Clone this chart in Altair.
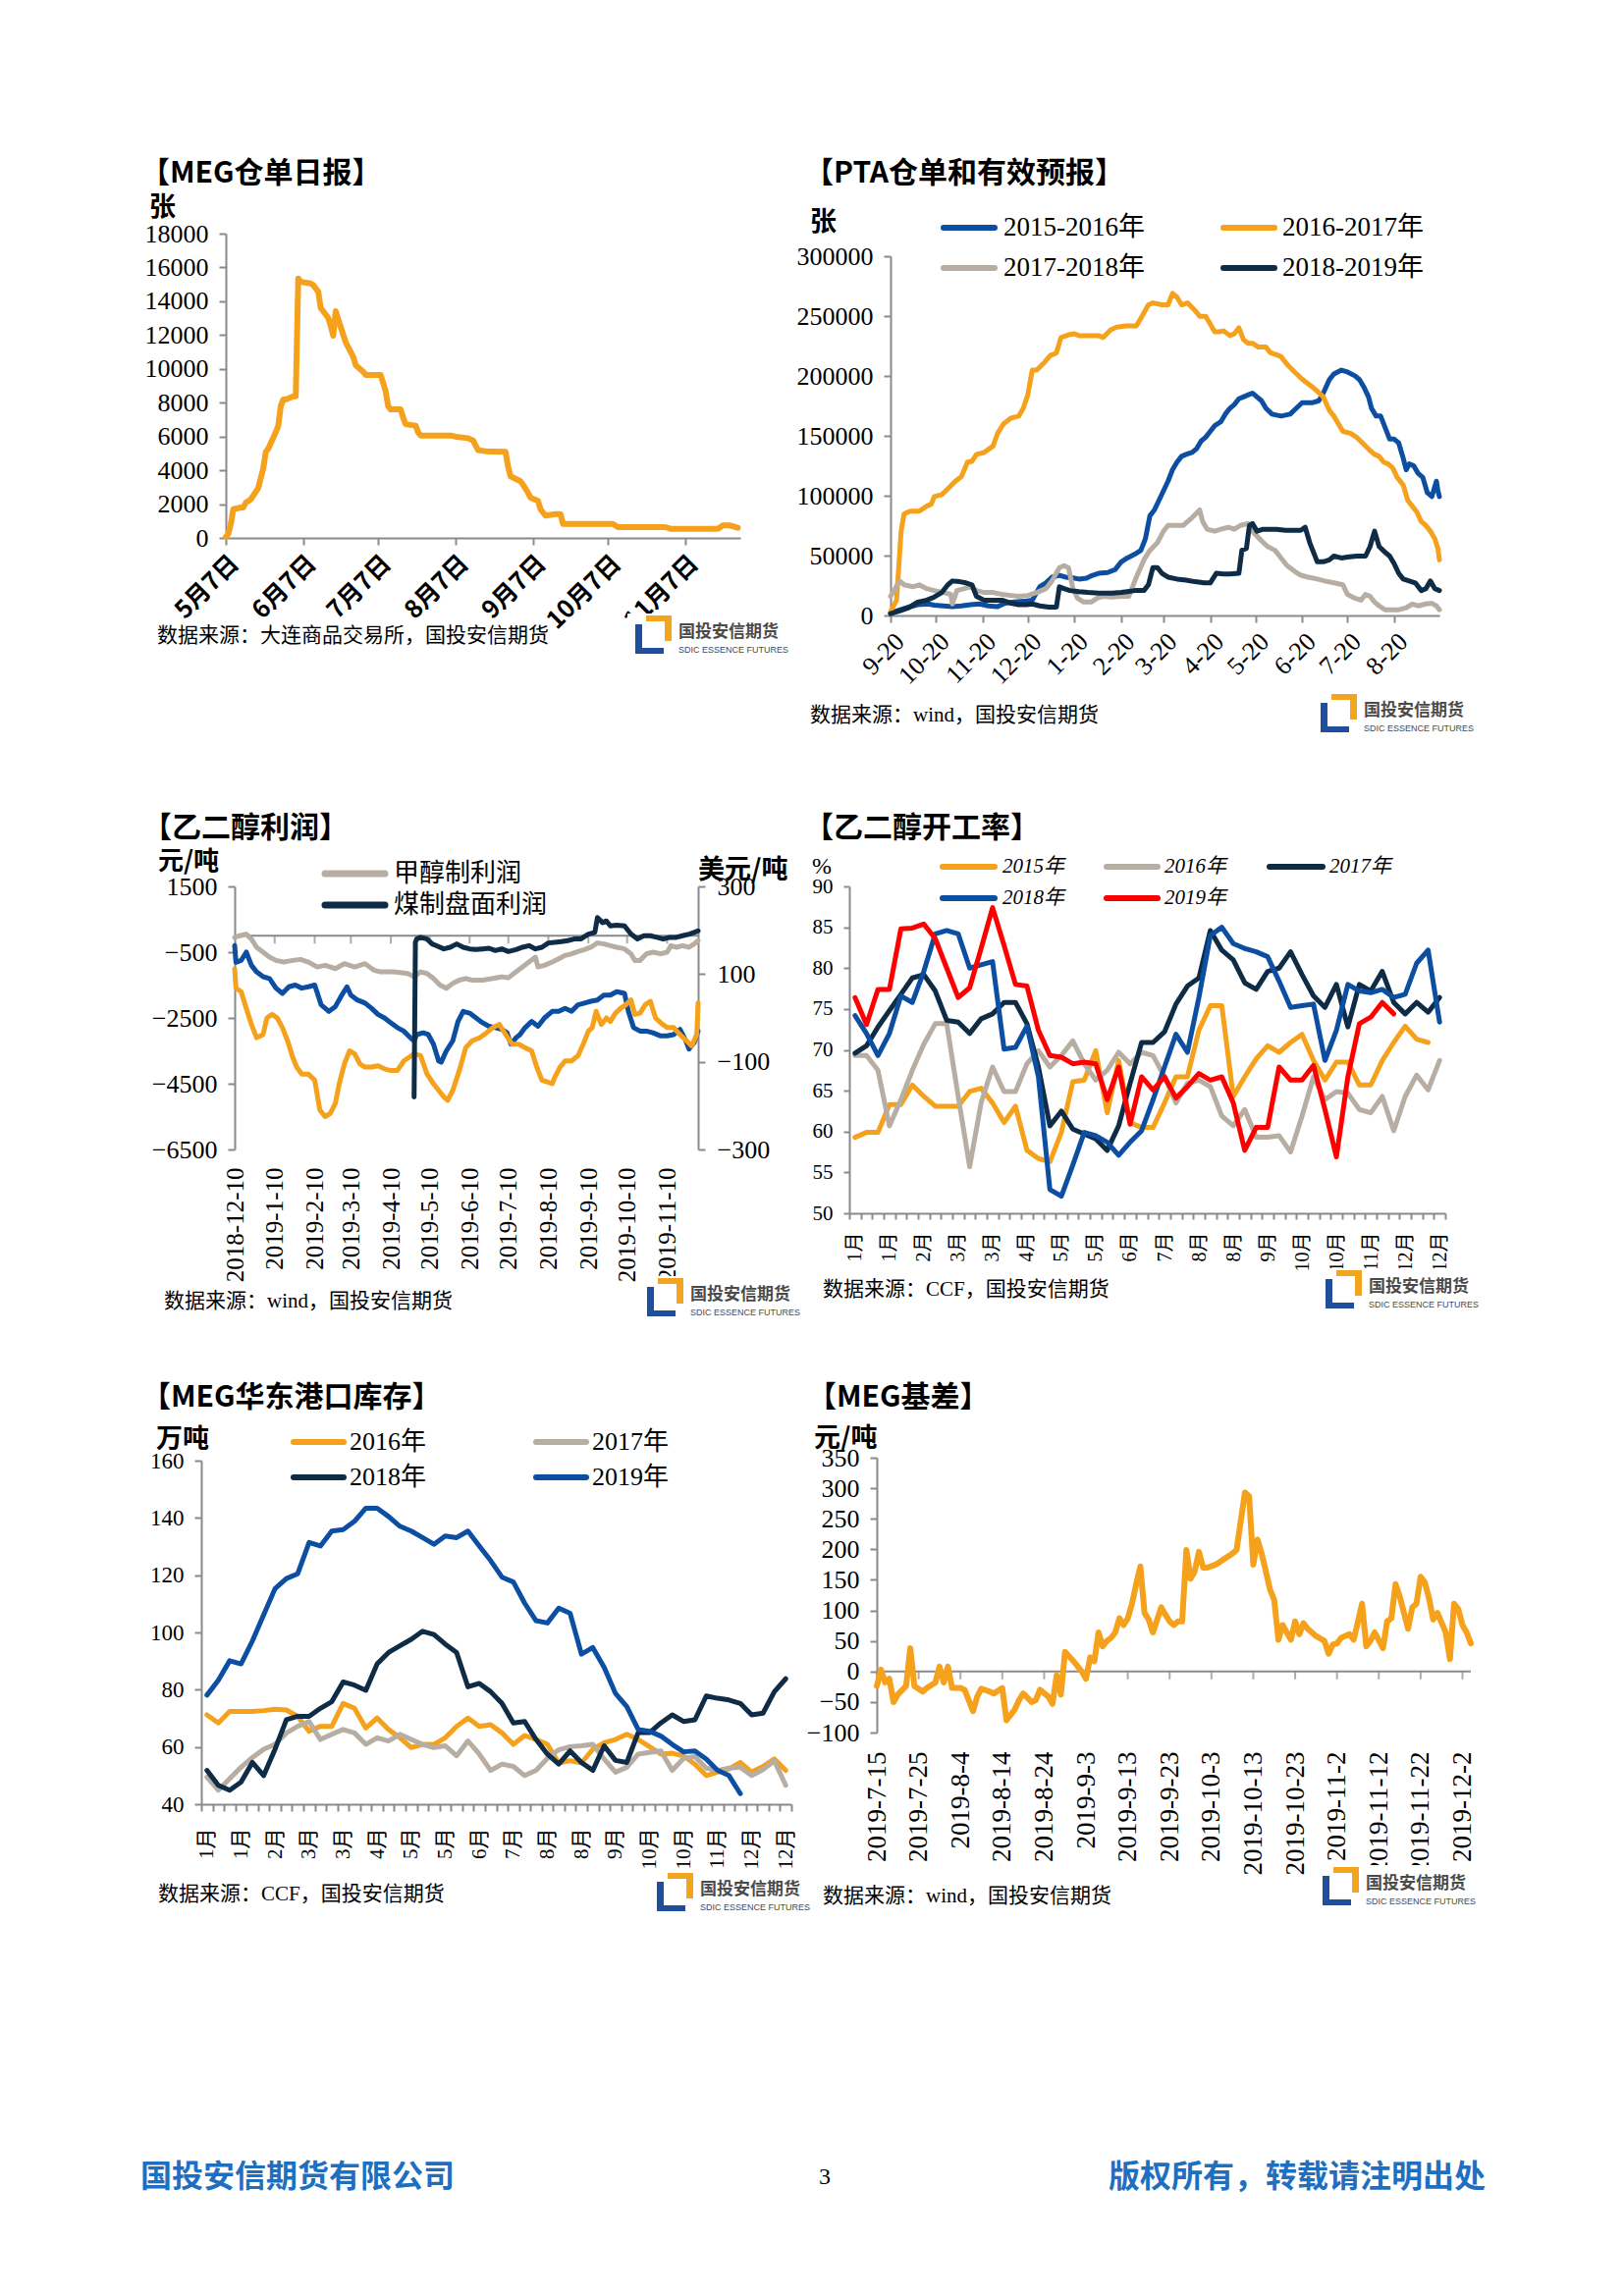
import json
import altair as alt
import pandas as pd

# ======================= DATA =======================
# 【MEG仓单日报】 unit: 张
meg_receipt_dates = ["2019-05-07","2019-05-08","2019-05-09","2019-05-10","2019-05-13","2019-05-14","2019-05-15","2019-05-17","2019-05-20","2019-05-21",
    "2019-05-22","2019-05-23","2019-05-24","2019-05-27","2019-05-28","2019-05-29","2019-05-30","2019-05-31","2019-06-03","2019-06-04",
    "2019-06-05","2019-06-06","2019-06-10","2019-06-11","2019-06-12","2019-06-13","2019-06-14","2019-06-17","2019-06-18","2019-06-19",
    "2019-06-20","2019-06-21","2019-06-24","2019-06-25","2019-06-26","2019-06-27","2019-06-28","2019-07-01","2019-07-02","2019-07-08",
    "2019-07-10","2019-07-11","2019-07-12","2019-07-16","2019-07-17","2019-07-18","2019-07-22","2019-07-23","2019-07-24","2019-08-05",
    "2019-08-08","2019-08-12","2019-08-14","2019-08-16","2019-08-19","2019-08-27","2019-08-28","2019-08-29","2019-09-02","2019-09-03",
    "2019-09-05","2019-09-06","2019-09-09","2019-09-10","2019-09-12","2019-09-16","2019-09-18","2019-09-19","2019-10-09","2019-10-11",
    "2019-10-30","2019-11-01","2019-11-20","2019-11-22","2019-11-25","2019-11-27","2019-11-28"]
meg_receipt_vals = [60,250,830,1700,1800,1800,2090,2280,2960,3540,
    4120,5090,5280,6250,6640,7800,8190,8190,8380,8380,
    15350,15150,15050,14960,14760,14570,13600,13020,12540,11960,
    13410,12930,11570,11280,10990,10700,10220,9830,9640,9640,
    8670,7800,7600,7600,7120,6730,6640,6250,6060,6060,
    5960,5900,5770,5190,5130,5090,4220,3640,3350,3150,
    2670,2380,2190,1700,1320,1410,1410,830,830,640,
    640,540,540,735,735,640,600]

# 【PTA仓单和有效预报】 unit: 张 ; x = days after 9-20 of the season
pta_days_1516 = [0,4,12,18,25,29,35,41,47,53,59,65,71,76,82,88,94,99,103,107,112,116,121,125,130,134,138,144,149,153,
    157,162,166,169,172,175,178,181,184,187,190,193,196,200,203,206,209,212,215,219,222,225,228,231,234,237,240,243,246,249,
    253,259,265,269,273,280,284,287,291,294,299,303,308,311,314,317,319,322,325,327,331,334,337,340,342,344,347,350,353,356,
    359,362,363,364]
pta_vals_1516 = [1600,3800,7000,9000,9600,8600,8000,7400,8000,9000,9600,8000,7400,10200,11200,11800,12800,24000,27200,32000,
    33600,32000,31400,30400,31100,33600,35200,35900,38400,44800,48000,51200,54400,64000,83300,88100,96100,104100,112100,121700,
    128100,132900,134500,136100,139300,145700,148900,153700,158500,161700,168100,172900,176100,180900,182500,184100,185700,182500,179300,172900,
    168100,166500,168100,172900,177700,177700,179300,185700,196900,201700,204900,203300,200100,196900,190500,182500,172900,166500,166500,160100,
    147300,147300,144100,131300,121700,126500,124900,118500,115300,102500,99300,112100,104100,99300]
pta_days_1617 = [0,4,7,9,13,19,24,27,29,34,38,43,47,51,54,57,62,68,71,75,80,85,88,91,94,97,102,106,110,113,
    118,122,125,132,138,141,146,150,156,163,166,171,174,180,184,187,190,193,197,202,205,209,212,215,218,221,225,228,231,234,
    237,240,244,249,252,256,259,263,268,272,275,280,283,287,291,294,297,300,305,309,313,318,321,324,327,330,333,336,340,343,
    346,349,352,355,358,361,363,364]
pta_vals_1617 = [3200,12800,70400,84900,87100,87100,91300,92900,99300,100900,105700,112100,115900,128100,128700,134500,136100,141500,152100,160100,
    164900,166500,172900,184100,204900,204900,211300,217100,219300,232100,234400,235300,233700,233700,233700,232100,238500,240800,241800,241800,
    248200,259400,261000,259400,259400,269000,265800,259400,261000,254600,249800,249800,243400,236900,236900,237600,233700,235300,240200,230500,
    227300,227300,224100,224100,219300,217700,216100,209700,203300,198500,195300,190500,187300,182500,171300,166500,160100,153700,152100,148900,
    144100,137700,134500,132900,128100,126500,123300,115300,108900,96100,91300,86500,78400,75200,70400,64000,56000,46400]
pta_days_1718 = [0,3,6,9,15,19,24,29,35,40,41,44,49,53,57,62,68,74,80,85,91,97,103,107,112,115,118,121,124,128,
    133,137,141,147,153,158,160,163,168,172,177,181,184,188,194,197,200,205,207,210,215,219,224,228,232,237,241,246,250,255,
    259,263,268,272,277,283,288,294,300,303,308,312,315,318,321,324,328,333,337,342,346,350,355,359,362,364]
pta_vals_1718 = [16000,22400,28800,25600,24000,25600,22400,20800,19200,17600,9600,20800,22400,24000,20800,19200,19200,17600,16700,16000,
    16700,19200,22400,28800,40000,41600,40000,22400,14400,11200,11200,14400,16000,15400,16000,16000,22400,32000,46400,54400,
    60800,70400,75200,75200,75200,78400,81700,88100,78400,72000,70400,72000,73600,72000,75200,76800,68800,62400,57600,54400,
    48000,41600,36800,33600,32000,30400,28800,27200,25600,17600,14400,12800,17600,16000,11200,8000,4800,4800,4800,6400,
    9600,8000,9600,10200,8000,4800]
pta_days_1819 = [0,6,12,18,24,29,34,38,41,46,50,54,57,62,68,74,80,85,90,94,99,105,110,112,115,119,125,131,138,147,
    153,157,162,168,171,174,177,180,184,190,196,202,208,212,216,221,225,231,233,236,238,240,243,247,252,256,262,268,272,275,
    278,283,287,291,294,299,303,309,315,318,321,324,328,331,334,337,340,344,348,352,355,358,361,364]
pta_vals_1819 = [1600,3800,6400,11200,12800,15400,19200,25600,28800,28200,27200,25600,16000,12800,12800,12800,10200,9000,9000,9600,
    8000,7000,7000,24000,22400,20800,19900,19200,18600,18600,19200,19900,20800,20800,25600,40000,40000,35200,32000,30400,
    29500,28200,27200,27200,35200,34600,34600,35200,54400,56000,75200,76800,70400,72000,72000,72000,71100,71100,71100,73600,
    60800,44800,44800,46400,49600,48000,48700,49600,49600,57600,70400,57600,52800,49600,43200,35200,30400,28800,27200,20800,
    22400,28800,22400,20800]

# 【乙二醇利润】 x = days after 2018-12-10
methanol_days = [0,4,9,13,17,22,27,32,38,45,51,57,64,70,78,85,93,101,108,113,123,134,139,144,149,154,159,164,169,174,
    179,184,192,200,207,212,218,223,228,233,235,240,246,251,256,261,266,271,276,281,286,291,296,302,307,310,314,319,324,330,
    335,338,342,347,352,356,359]
methanol_vals = [-50,0,50,-100,-350,-500,-650,-750,-800,-750,-720,-800,-950,-900,-1000,-850,-950,-850,-1050,-1100,
    -1100,-1150,-1250,-1100,-1150,-1300,-1500,-1600,-1450,-1350,-1300,-1350,-1350,-1300,-1250,-1280,-1100,-950,-800,-650,
    -950,-900,-800,-700,-600,-550,-480,-420,-350,-220,-250,-300,-350,-400,-550,-750,-750,-550,-500,-550,
    -500,-300,-350,-300,-350,-250,-150]
coal_days = [139,140,141,144,149,153,156,162,167,172,177,182,187,192,197,202,207,212,218,223,228,233,238,243,248,253,258,263,268,274,
    279,281,285,288,291,296,302,307,312,317,322,327,332,337,342,347,352,356,359]
coal_vals = [-4900,-200,-100,-50,-100,-250,-300,-400,-350,-250,-350,-400,-420,-400,-380,-450,-400,-480,-420,-350,
    -300,-400,-350,-220,-200,-180,-150,-100,-100,50,100,550,400,450,300,320,300,50,-100,0,
    0,-50,-100,-50,-50,0,50,100,150]
usd_blue_days = [0,1,5,9,13,17,22,27,32,37,42,47,52,57,62,67,73,78,83,87,90,95,101,106,111,116,121,126,131,136,
    139,141,146,150,154,158,160,164,169,173,177,182,187,192,197,202,207,211,214,218,221,225,230,235,240,246,251,256,261,266,
    271,276,281,286,291,296,302,305,309,314,319,324,330,335,340,345,349,352,356,359]
usd_blue_vals = [165,127,131,150,120,105,94,90,68,56,71,75,68,71,75,30,15,26,52,71,52,41,34,22,8,0,-11,-22,-30,-45,
    -52,-38,-34,-38,-60,-98,-101,-75,-52,-8,15,11,0,-11,-19,-22,-26,-34,-60,-45,-38,-22,-8,-19,0,15,15,22,15,30,
    34,38,41,52,52,60,56,15,-22,-30,-30,-34,-41,-41,-38,-26,-49,-71,-56,-30]
usd_orange_days = [0,1,5,9,13,17,22,25,29,33,37,41,45,48,52,57,62,66,70,74,78,81,85,89,93,97,101,106,111,116,
    121,126,131,135,139,144,149,154,158,162,165,169,174,179,184,190,195,200,205,210,215,220,225,230,234,238,242,246,248,252,
    256,261,266,270,274,277,280,284,288,291,295,299,303,307,310,314,318,322,326,330,335,340,345,350,354,358,359]
usd_orange_vals = [112,68,60,22,-15,-45,-38,0,8,0,-22,-52,-90,-112,-128,-128,-142,-210,-225,-218,-195,-150,-105,-75,-82,-105,-112,-112,-109,-116,
    -120,-120,-98,-90,-82,-86,-128,-150,-165,-180,-188,-165,-120,-68,-52,-45,-34,-22,-15,-38,-60,-60,-68,-75,-112,-142,-146,-150,-135,-112,
    -98,-98,-86,-60,-30,-22,15,-15,0,-8,11,22,30,41,8,11,30,38,0,-11,-22,-22,-38,-52,-64,-38,34]

# 【乙二醇开工率】 weekly, %
rate_2015 = [59.3,59.9,59.9,63.3,63.3,65.7,64.3,63.1,63.1,63.1,64.9,65.3,63.5,61.1,63.1,57.7,56.7,56.3,59.9,66.1,66.3,69.9,62.3,68.7,61.1,60.5,
    60.5,63.5,66.7,66.7,72.4,75.4,75.4,64.3,66.7,68.9,70.5,69.7,70.9,71.9,68.7,66.3,68.5,68.5,65.7,65.7,68.7,70.9,72.9,71.3,70.9]
rate_2016 = [69.3,69.3,67.5,60.7,63.9,67.5,70.7,73.2,73.2,64.3,55.7,63.5,67.9,64.9,64.9,68.3,69.9,67.9,69.3,71.1,68.3,66.3,67.5,69.7,68.3,69.7,
    69.3,66.7,63.5,65.9,66.3,65.5,61.9,60.7,62.7,59.3,59.3,59.5,57.5,61.9,66.7,63.9,64.9,64.7,62.7,62.3,64.3,60.1,64.3,66.9,65.1,68.7]
rate_2017 = [69.6,70.5,72.8,74.8,76.8,78.8,79.2,77.2,73.6,73.4,72.0,73.8,74.4,75.8,75.8,73.2,67.9,60.7,62.5,60.3,59.7,59.1,57.7,60.7,65.9,70.9,
    70.9,72.2,75.6,77.8,78.8,84.6,82.2,81.0,78.2,77.4,79.6,80.0,82.0,79.2,76.6,75.2,78.0,72.8,78.0,77.2,79.6,75.8,74.4,75.8,74.6,76.4]
rate_2018 = [74.2,72.0,69.3,72.0,76.6,75.8,79.6,84.2,84.6,84.2,80.0,80.4,80.8,70.1,70.3,72.9,66.7,52.9,52.1,55.9,59.9,59.5,58.7,57.1,58.7,60.1,
    63.9,67.9,71.9,69.7,76.4,84.0,85.0,83.0,82.4,82.0,81.4,78.4,75.2,75.4,75.6,68.7,72.4,78.0,77.2,77.0,77.4,76.4,76.8,80.6,82.2,73.4]
rate_2019 = [76.4,73.1,77.4,77.4,84.8,84.9,85.4,83.6,80.0,76.4,77.6,82.4,87.4,82.8,78.0,77.8,72.4,69.3,69.1,68.3,68.5,68.3,63.9,67.9,60.9,66.7,
    65.1,66.7,64.1,65.5,67.1,66.3,66.7,63.5,57.7,60.5,60.5,67.9,66.3,66.3,68.1,62.7,56.9,66.7,73.2,74.0,75.8,74.4]

# 【MEG华东港口库存】 weekly, 万吨
stock_2016 = [71.2,68.4,72.4,72.4,72.4,72.7,73.2,72.9,70.7,65.5,67.2,67.2,75.2,73.5,66.6,70.1,66.1,63.2,59.8,60.9,60.9,63.2,67.2,70.1,67.2,67.8,
    64.9,60.9,64.0,62.6,60.9,54.4,55.2,54.4,59.2,61.5,62.6,64.4,62.6,60.1,57.5,57.8,56.9,54.0,50.0,51.2,52.3,54.6,51.2,53.2,55.8,51.8]
stock_2017 = [49.5,44.9,48.9,52.9,56.3,59.2,60.9,64.9,67.2,68.9,62.6,64.4,66.1,64.9,60.9,63.2,62.1,64.4,62.6,60.9,59.8,60.4,56.9,62.1,57.5,51.8,
    54.0,53.2,50.0,51.8,56.0,59.0,60.1,60.4,60.9,55.8,51.2,52.9,57.5,58.1,58.6,51.8,56.0,56.6,52.6,51.8,52.6,52.9,50.0,52.1,55.2,46.6]
stock_2018 = [51.8,46.6,44.9,47.7,54.6,50.0,59.2,69.5,70.7,70.7,73.5,75.8,82.7,81.6,79.8,89.0,93.0,95.3,97.6,100.4,99.3,95.9,93.0,81.0,82.2,79.3,
    75.2,68.4,68.9,62.6,57.5,54.0,58.6,54.6,51.8,60.4,55.3,54.6,65.0,65.0,68.4,71.2,68.9,69.5,77.8,77.0,76.4,75.2,71.2,71.8,79.3,83.8]
stock_2019 = [78.1,83.3,90.1,89.0,97.0,106.2,115.3,118.8,120.5,131.4,130.2,135.4,135.9,138.8,143.4,143.4,140.5,137.1,135.4,133.1,130.8,133.7,133.1,135.4,130.2,125.1,
    119.3,117.6,110.2,104.1,103.3,108.5,106.7,92.4,94.7,87.8,78.7,74.1,66.1,65.5,63.8,60.9,58.3,58.6,55.8,51.8,50.0,43.7]
week_labels = ["1月","1月","2月","3月","3月","4月","5月","5月","6月","7月","8月","8月","9月","10月","10月","11月","12月","12月"]

# 【MEG基差】 元/吨 ; x = days after 2019-07-15
basis_days = [0,1,2,3,4,5,7,8,9,11,12,14,15,16,17,18,20,21,23,24,25,27,28,30,31,33,34,35,37,38,
    39,41,42,43,44,45,47,49,50,51,52,53,54,55,56,57,58,59,60,61,62,63,64,65,66,68,69,70,71,72,
    73,74,75,76,77,78,79,81,83,85,86,88,89,90,91,92,93,94,95,96,97,98,99,100,101,102,103,105,107,108,
    109,110,111,113,114,116,117,118,119,121,122,123,124,125,127,128,129,130,131,132,133,134,136,137,138,139,140,141,142]
basis_vals = [-24,3,-18,-12,-50,-38,-24,38,-24,-33,-27,-18,8,-18,8,-27,-27,-30,-65,-41,-28,-33,-36,-27,-80,-62,-47,-36,-50,-47,
    -30,-41,-53,-6,-38,32,17,0,-12,23,17,64,41,50,55,64,87,76,87,111,143,172,96,85,64,105,93,82,76,82,
    82,199,152,164,196,170,170,175,184,193,199,293,287,175,216,193,164,134,117,52,76,64,52,82,61,79,70,58,50,29,
    44,46,55,61,52,111,41,50,64,38,82,87,143,123,70,105,111,155,146,120,85,96,64,20,111,102,76,64,46]

# ======================= STYLE =======================
SERIF = "Liberation Serif, Noto Sans CJK SC"
SANS = "Noto Sans CJK SC"
ORANGE = "#F5A11C"
BLUE = "#0B4EA2"
NAVY = "#0E2C46"
TAUPE = "#B8ADA2"
RED = "#FF0000"
AXC = "#8A8A8A"
FOOT = "#1F6FC1"
LOGO_BLUE = "#1F4E9C"
LOGO_ORANGE = "#F3A51F"

ONE = pd.DataFrame({"k": [0]})

# grid cells (page is split into 2 columns x 3 rows of fixed-size views)
VW = [799, 733]
VH = [772, 600, 900]


def dt(y, m, d):
    return alt.DateTime(year=y, month=m, date=d)


def ax(**kw):
    base = dict(domainColor=AXC, domainWidth=2, tickColor=AXC, tickWidth=2, tickSize=7, grid=False,
                title=None, labelColor="black", labelFont=SERIF, labelFontSize=26, labelFlush=False,
                labelOverlap=False, labelPadding=11)
    base.update(kw)
    return alt.Axis(**base)


class Panel:
    """Plot area of w x h placed at (ox, oy) inside a view of size vw x vh."""

    def __init__(self, ox, oy, w, h, vw, vh):
        self.ox, self.oy, self.w, self.h, self.vw, self.vh = ox, oy, w, h, vw, vh

    def xr(self):
        return [self.ox, self.ox + self.w]

    def yr(self):
        return [self.oy + self.h, self.oy]

    def bottom_off(self):
        return self.oy + self.h - self.vh

    def left_off(self):
        return -self.ox

    def right_off(self):
        return self.ox + self.w - self.vw

    def txt(self, x, y, s, size=21, font=SERIF, weight="normal", color="black", align="left", style="normal"):
        return alt.Chart(ONE).mark_text(text=s, fontSize=size, font=font, fontWeight=weight, color=color,
                                        align=align, baseline="middle", fontStyle=style).encode(
            x=alt.value(self.ox + x), y=alt.value(self.oy + y))

    def swatch(self, x1, x2, y, color, w=6):
        return alt.Chart(ONE).mark_rule(color=color, strokeWidth=w, strokeCap="round").encode(
            x=alt.value(self.ox + x1), x2=alt.value(self.ox + x2), y=alt.value(self.oy + y))

    def rect(self, x1, y1, x2, y2, color):
        return alt.Chart(ONE).mark_rect(color=color).encode(
            x=alt.value(self.ox + x1), x2=alt.value(self.ox + x2),
            y=alt.value(self.oy + y1), y2=alt.value(self.oy + y2))

    def logo(self, x, y):
        return [
            self.rect(x - 8, y - 2, x + 165, y + 44, "white"),
            self.rect(x + 11, y, x + 37, y + 6, LOGO_ORANGE),
            self.rect(x + 30, y, x + 37, y + 26, LOGO_ORANGE),
            self.rect(x, y + 9, x + 7, y + 39, LOGO_BLUE),
            self.rect(x, y + 33, x + 29, y + 39, LOGO_BLUE),
            self.txt(x + 44, y + 17, "国投安信期货", size=17, font=SANS, weight="bold", color="#4A4A4A"),
            self.txt(x + 44, y + 35, "SDIC ESSENCE FUTURES", size=9,
                     font="Liberation Sans Narrow, Liberation Sans", color="#4A4A4A"),
        ]

    def zero_rule(self, y_enc):
        return alt.Chart(ONE).mark_rule(color=AXC, strokeWidth=2).encode(
            x=alt.value(self.ox), x2=alt.value(self.ox + self.w), y=y_enc)


def season_df(base, days, vals):
    return pd.DataFrame({"date": pd.Timestamp(base) + pd.to_timedelta(days, unit="D"), "v": vals})


def week_df(vals):
    return pd.DataFrame({"week": list(range(len(vals))), "v": vals})


def line(df, color, x, y, w=5):
    return alt.Chart(df).mark_line(color=color, strokeWidth=w, strokeJoin="round", strokeCap="round").encode(x=x, y=y)


# ======================= PANEL 1 =======================
A = Panel(211, 230, 524, 310, VW[0], VH[0])
df_meg = pd.DataFrame({"date": pd.to_datetime(meg_receipt_dates), "v": meg_receipt_vals})
x1 = alt.X("date:T", scale=alt.Scale(domain=[dt(2019, 5, 7), dt(2019, 11, 29)], range=A.xr(), nice=False),
           axis=ax(values=[dt(2019, m, 7) for m in range(5, 12)], format="%-m月%-d日", labelAngle=-45,
                   labelFont=SANS, labelFontWeight="bold", labelFontSize=25, labelPadding=6,
                   offset=A.bottom_off()))
y1 = alt.Y("v:Q", scale=alt.Scale(domain=[0, 18000], range=A.yr(), nice=False),
           axis=ax(values=list(range(0, 18001, 2000)), format="d", offset=A.left_off()))
p1 = alt.layer(
    line(df_meg, ORANGE, x1, y1, 6),
    A.txt(-87, -61, "【MEG仓单日报】", 30, SANS, "bold"),
    A.txt(-78, -26, "张", 27, SANS, "bold"),
    A.txt(-70, 410, "数据来源：大连商品交易所，国投安信期货", 21),
    *A.logo(417, 389),
).properties(width=VW[0], height=VH[0])

# ======================= PANEL 2 =======================
B = Panel(89, 253, 559, 366, VW[1], VH[0])
x2 = alt.X("date:T", scale=alt.Scale(domain=[dt(2018, 9, 20), dt(2019, 9, 19)], range=B.xr(), nice=False),
           axis=ax(values=[dt(2018, m, 20) for m in range(9, 13)] + [dt(2019, m, 20) for m in range(1, 9)],
                   format="%-m-%d", labelAngle=-45, labelPadding=6, offset=B.bottom_off()))
y2 = alt.Y("v:Q", scale=alt.Scale(domain=[0, 300000], range=B.yr(), nice=False),
           axis=ax(values=list(range(0, 300001, 50000)), format="d", offset=B.left_off()))
p2 = alt.layer(
    line(season_df("2018-09-20", pta_days_1516, pta_vals_1516), BLUE, x2, y2),
    line(season_df("2018-09-20", pta_days_1617, pta_vals_1617), ORANGE, x2, y2),
    line(season_df("2018-09-20", pta_days_1718, pta_vals_1718), TAUPE, x2, y2),
    line(season_df("2018-09-20", pta_days_1819, pta_vals_1819), NAVY, x2, y2),
    B.txt(-88, -84, "【PTA仓单和有效预报】", 30, SANS, "bold"),
    B.txt(-82, -34, "张", 27, SANS, "bold"),
    B.swatch(54, 106, -29, BLUE), B.txt(115, -29, "2015-2016年", 27),
    B.swatch(339, 391, -29, ORANGE), B.txt(399, -29, "2016-2017年", 27),
    B.swatch(54, 106, 12, TAUPE), B.txt(115, 12, "2017-2018年", 27),
    B.swatch(339, 391, 12, NAVY), B.txt(399, 12, "2018-2019年", 27),
    B.txt(-82, 468, "数据来源：wind，国投安信期货", 21),
    *B.logo(438, 446),
).properties(width=VW[1], height=VH[0])

# ======================= PANEL 3 =======================
C = Panel(220, 123, 472, 268, VW[0], VH[1])
x3 = alt.X("date:T", scale=alt.Scale(domain=[dt(2018, 12, 10), dt(2019, 12, 4)], range=C.xr(), nice=False),
           axis=ax(values=[dt(2018, 12, 10)] + [dt(2019, m, 10) for m in range(1, 12)],
                   format="%Y-%-m-%-d", labelAngle=-90, domain=False, ticks=False, tickSize=0,
                   labelPadding=18, labelFontSize=25, offset=C.bottom_off()))
y3l_scale = alt.Scale(domain=[-6500, 1500], range=C.yr(), nice=False)
y3l_axis = ax(values=[1500, -500, -2500, -4500, -6500], format="d", orient="left", offset=C.left_off())
y3l = alt.Y("v:Q", scale=y3l_scale, axis=y3l_axis)
y3r = alt.Y("v:Q", scale=alt.Scale(domain=[-300, 300], range=C.yr(), nice=False),
            axis=ax(values=[300, 100, -100, -300], format="d", orient="right", labelPadding=12,
                    offset=C.right_off()))
ticks3 = pd.DataFrame({"date": pd.to_datetime(["2019-%02d-10" % m for m in range(1, 12)])})
zero3 = alt.YDatum(0, type="quantitative", scale=y3l_scale, axis=y3l_axis)
right3 = alt.layer(
    line(season_df("2018-12-10", usd_blue_days, usd_blue_vals), BLUE, x3, y3r),
    line(season_df("2018-12-10", usd_orange_days, usd_orange_vals), ORANGE, x3, y3r),
)
left3 = alt.layer(
    C.zero_rule(zero3),
    alt.Chart(ticks3).mark_tick(orient="vertical", size=8, thickness=2, color=AXC, yOffset=4).encode(x=x3, y=zero3),
    line(season_df("2018-12-10", methanol_days, methanol_vals), TAUPE, x3, y3l),
    line(season_df("2018-12-10", coal_days, coal_vals), NAVY, x3, y3l),
)
p3 = alt.layer(
    right3, left3,
    C.txt(-94, -59, "【乙二醇利润】", 30, SANS, "bold"),
    C.txt(-78, -25, "元/吨", 26, SANS, "bold"),
    C.txt(472, -16, "美元/吨", 27, SANS, "bold"),
    C.swatch(92, 153, -13, TAUPE, 7), C.txt(162, -13, "甲醇制利润", 26, SANS),
    C.swatch(92, 153, 19, NAVY, 7), C.txt(162, 19, "煤制盘面利润", 26, SANS),
    C.txt(-72, 423, "数据来源：wind，国投安信期货", 21),
    *C.logo(420, 399),
).resolve_scale(y="independent").properties(width=VW[0], height=VH[1])


# ======================= PANEL 4 =======================
def week_x(P, fontsize, pad, tick):
    expr = "datum.value % 3 == 0 ? " + json.dumps(week_labels, ensure_ascii=False) + "[datum.value / 3] : ''"
    return alt.X("week:O", bandPosition=0.5,
                 scale=alt.Scale(type="band", domain=list(range(52)), range=P.xr(), paddingInner=0, paddingOuter=0),
                 axis=ax(tickBand="extent", labelExpr=expr, labelAngle=-90, labelFontSize=fontsize,
                         labelPadding=pad, tickSize=tick, offset=P.bottom_off()))


D = Panel(47, 123, 607, 333, VW[1], VH[1])
x4 = week_x(D, 20, 13, 6)
y4 = alt.Y("v:Q", scale=alt.Scale(domain=[50, 90], range=D.yr(), nice=False),
           axis=ax(values=list(range(50, 91, 5)), format="d", labelFontSize=21, tickSize=6, offset=D.left_off()))
p4 = alt.layer(
    line(week_df(rate_2015), ORANGE, x4, y4),
    line(week_df(rate_2016), TAUPE, x4, y4),
    line(week_df(rate_2017), NAVY, x4, y4),
    line(week_df(rate_2018), BLUE, x4, y4),
    line(week_df(rate_2019), RED, x4, y4),
    D.txt(-46, -59, "【乙二醇开工率】", 30, SANS, "bold"),
    D.txt(-38, -20, "%", 24),
    D.swatch(95, 148, -20, ORANGE), D.txt(156, -20, "2015年", 21, style="italic"),
    D.swatch(262, 314, -20, TAUPE), D.txt(321, -20, "2016年", 21, style="italic"),
    D.swatch(428, 482, -20, NAVY), D.txt(489, -20, "2017年", 21, style="italic"),
    D.swatch(95, 148, 12, BLUE), D.txt(156, 12, "2018年", 21, style="italic"),
    D.swatch(262, 314, 12, RED), D.txt(321, 12, "2019年", 21, style="italic"),
    D.txt(-27, 411, "数据来源：CCF，国投安信期货", 21),
    *D.logo(485, 391),
).properties(width=VW[1], height=VH[1])

# ======================= PANEL 5 =======================
E = Panel(186, 108, 601, 350, VW[0], VH[2])
x5 = week_x(E, 21, 17, 7)
y5 = alt.Y("v:Q", scale=alt.Scale(domain=[40, 160], range=E.yr(), nice=False),
           axis=ax(values=list(range(40, 161, 20)), format="d", labelFontSize=23, offset=E.left_off()))
p5 = alt.layer(
    line(week_df(stock_2016), ORANGE, x5, y5),
    line(week_df(stock_2017), TAUPE, x5, y5),
    line(week_df(stock_2018), NAVY, x5, y5),
    line(week_df(stock_2019), BLUE, x5, y5),
    E.txt(-61, -64, "【MEG华东港口库存】", 30, SANS, "bold"),
    E.txt(-46, -21, "万吨", 27, SANS, "bold"),
    E.swatch(94, 145, -19, ORANGE), E.txt(151, -19, "2016年", 26),
    E.swatch(341, 392, -19, TAUPE), E.txt(398, -19, "2017年", 26),
    E.swatch(94, 145, 17, NAVY), E.txt(151, 17, "2018年", 26),
    E.swatch(341, 392, 17, BLUE), E.txt(398, 17, "2019年", 26),
    E.txt(-44, 442, "数据来源：CCF，国投安信期货", 21),
    *E.logo(464, 420),
    E.txt(-62, 730, "国投安信期货有限公司", 32, SANS, "bold", FOOT),
    E.txt(635, 730, "3", 24, align="center"),
).properties(width=VW[0], height=VH[2])

# ======================= PANEL 6 =======================
F = Panel(75, 105, 605, 280, VW[1], VH[2])
basis_ticks = [(7, 15), (7, 25), (8, 4), (8, 14), (8, 24), (9, 3), (9, 13), (9, 23), (10, 3), (10, 13),
               (10, 23), (11, 2), (11, 12), (11, 22), (12, 2)]
x6 = alt.X("date:T", scale=alt.Scale(domain=[dt(2019, 7, 15), dt(2019, 12, 4)], range=F.xr(), nice=False),
           axis=ax(values=[dt(2019, m, d) for m, d in basis_ticks], format="%Y-%-m-%-d", labelAngle=-90,
                   domain=False, ticks=False, tickSize=0, labelPadding=19, labelFontSize=27,
                   offset=F.bottom_off()))
y6_scale = alt.Scale(domain=[-100, 350], range=F.yr(), nice=False)
y6_axis = ax(values=list(range(-100, 351, 50)), format="d", offset=F.left_off())
y6 = alt.Y("v:Q", scale=y6_scale, axis=y6_axis)
zero6 = alt.YDatum(0, type="quantitative", scale=y6_scale, axis=y6_axis)
ticks6 = pd.DataFrame({"date": pd.to_datetime(["2019-%02d-%02d" % md for md in basis_ticks])})
p6 = alt.layer(
    F.zero_rule(zero6),
    alt.Chart(ticks6).mark_tick(orient="vertical", size=8, thickness=2, color=AXC, yOffset=4).encode(x=x6, y=zero6),
    line(season_df("2019-07-15", basis_days, basis_vals), ORANGE, x6, y6, 6),
    F.txt(-71, -61, "【MEG基差】", 30, SANS, "bold"),
    F.txt(-64, -19, "元/吨", 27, SANS, "bold"),
    F.txt(-55, 447, "数据来源：wind，国投安信期货", 21),
    *F.logo(454, 417),
    F.txt(620, 733, "版权所有，转载请注明出处", 32, SANS, "bold", FOOT, align="right"),
).properties(width=VW[1], height=VH[2])

# ======================= PAGE LAYOUT =======================
chart = alt.concat(p1, p2, p3, p4, p5, p6, columns=2, bounds="flush", spacing=0).properties(
    padding=0).configure_view(strokeWidth=0).configure_axis(labelOverlap=False)

chart.save("out.html", embed_options={"renderer": "svg", "actions": False})
